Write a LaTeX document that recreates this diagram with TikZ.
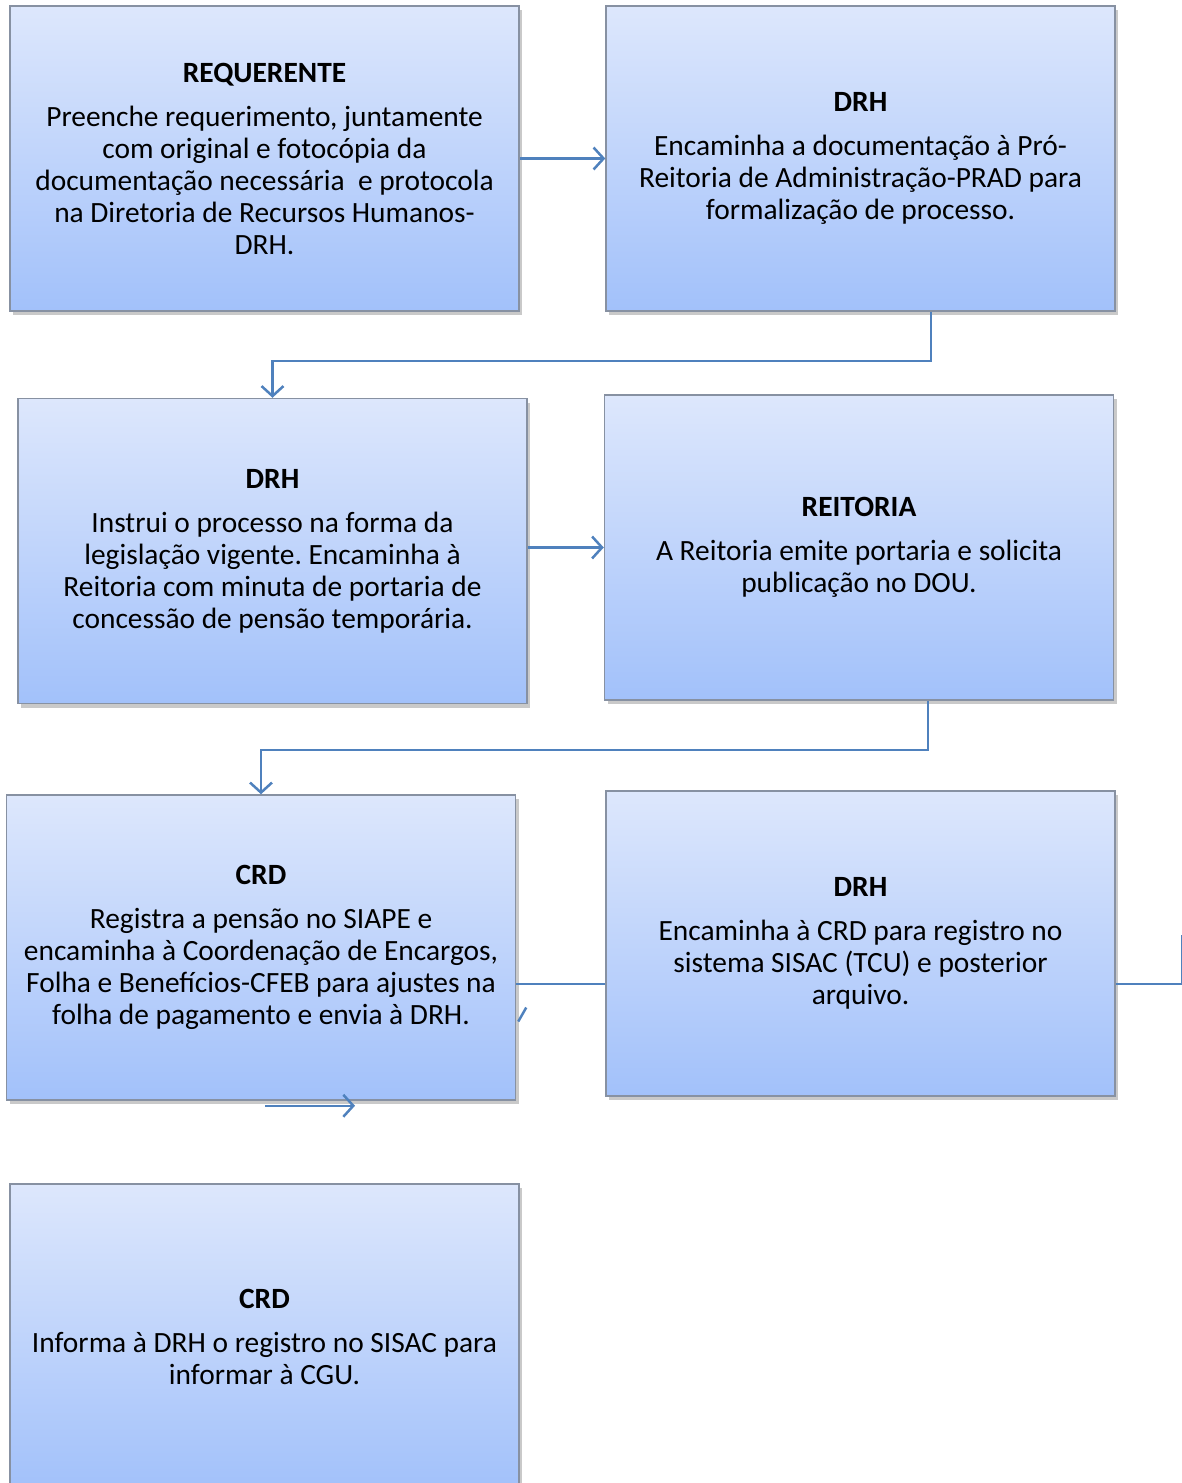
\documentclass[tikz,border=0pt]{standalone}
\usepackage{fontspec}
\setmainfont{Carlito}
\frenchspacing
\usetikzlibrary{arrows.meta,shadows}
\definecolor{boxtop}{RGB}{221,231,252}
\definecolor{boxbot}{RGB}{162,193,250}
\definecolor{boxline}{RGB}{135,145,162}
\definecolor{connc}{RGB}{79,129,189}
\tikzset{
  stepbox/.style={rectangle, minimum width=254.5pt, minimum height=152.5pt, inner sep=0pt,
    top color=boxtop, bottom color=boxbot, draw=boxline, line width=0.75pt, align=center,
    font=\fontsize{14.7}{16}\selectfont,
    drop shadow={shadow xshift=1.5pt, shadow yshift=-2pt, opacity=0.3, fill=black!70}},
  link/.style={draw=connc, line width=1.25pt},
  arr/.style={link, -{Straight Barb[length=5pt,width=11pt,line width=1.25pt]}}
}
\begin{document}
\begin{tikzpicture}[x=0.5pt,y=-0.5pt]
\useasboundingbox (0,0) rectangle (1182,1483);
\clip (0,0) rectangle (1182,1483);
\node[stepbox] (b1) at (264.5,158.5) {\textbf{REQUERENTE}\\[6pt]Preenche requerimento, juntamente\\com original e fotocópia da\\documentação necessária\ \ e protocola\\na Diretoria de Recursos Humanos-\\DRH.};
\node[stepbox] (b2) at (860.5,158.5) {\textbf{DRH}\\[6pt]Encaminha a documentação à Pró-\\Reitoria de Administração-PRAD para\\formalização de processo.};
\node[stepbox] (b3) at (272.5,551) {\textbf{DRH}\\[6pt]Instrui o processo na forma da\\legislação vigente. Encaminha à\\Reitoria com minuta de portaria de\\concessão de pensão temporária.};
\node[stepbox] (b4) at (859,547.5) {\textbf{REITORIA}\\[6pt]A Reitoria emite portaria e solicita\\publicação no DOU.};
\node[stepbox] (b5) at (261,947.5) {\textbf{CRD}\\[6pt]Registra a pensão no SIAPE e\\encaminha à Coordenação de Encargos,\\Folha e Benefícios-CFEB para ajustes na\\folha de pagamento e envia à DRH.};
\node[stepbox] (b6) at (860.5,943.5) {\textbf{DRH}\\[6pt]Encaminha à CRD para registro no\\sistema SISAC (TCU) e posterior\\arquivo.};
\node[stepbox] (b7) at (264.5,1336.5) {\textbf{CRD}\\[6pt]Informa à DRH o registro no SISAC para\\informar à CGU.};

\coordinate (c6w) at ([yshift=-20.25pt]b6.west);
\coordinate (c6e) at ([yshift=-20.25pt]b6.east);
\draw[arr] (b1.east) -- (b2.west);
\draw[arr] ([xshift=35.25pt]b2.south) -- ++(0,49) -| (b3.north);
\draw[arr] (b3.east |- b4.west) -- (b4.west);
\draw[arr] ([xshift=34.5pt]b4.south) -- ++(0,49) -| (b5.north);
\draw[link] (c6w) -- (b5.east |- c6w);
\draw[link] ([shift={(1pt,-37pt)}]b5.east) -- ++(8,-14);
\draw[arr] ([shift={(2pt,-2.5pt)}]b5.south) -- ++(90,0);
\draw[link] (c6e) -- ++(66,0) -- ++(0,-49);
\end{tikzpicture}
\end{document}
